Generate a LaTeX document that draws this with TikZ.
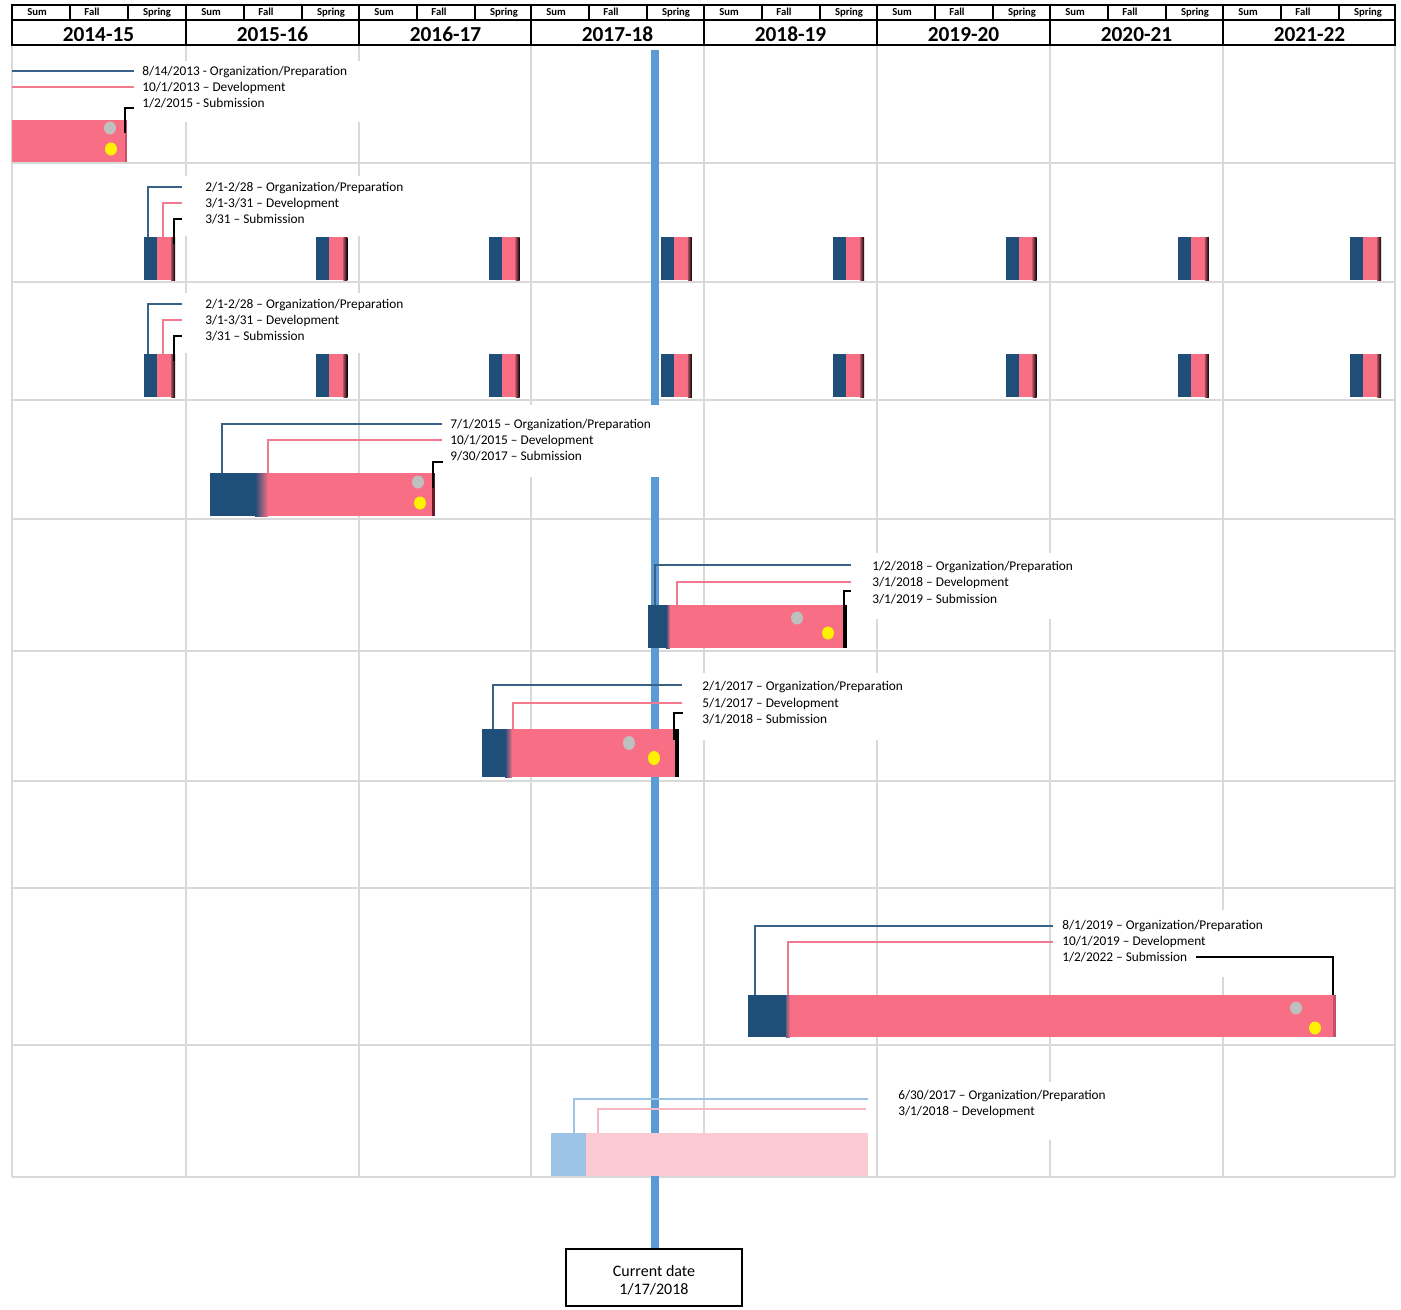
\documentclass[tikz,border=0pt]{standalone}
\usepackage{fontspec}
\setmainfont{Carlito}
\definecolor{dblue}{HTML}{1F4E79}
\definecolor{pinkc}{HTML}{F76E85}
\definecolor{gridc}{HTML}{D9D9D9}
\definecolor{curc}{HTML}{5B9BD5}
\definecolor{lblue}{HTML}{9DC3E6}
\definecolor{lpink}{HTML}{FBCAD3}
\definecolor{lpinkline}{HTML}{F7B8C3}
\definecolor{dotgray}{HTML}{BFBFBF}
\definecolor{cblue}{HTML}{3A6287}
\definecolor{cpink}{HTML}{F27A8E}
\definecolor{edgered}{HTML}{6B1A2A}
\definecolor{edgepink}{HTML}{C4506A}
\begin{document}
\begin{tikzpicture}[x=0.75pt,y=-0.75pt,
  gridline/.style={draw=gridc,line width=1.5pt},
  hdr/.style={draw=black,line width=1.5pt},
  hdrthin/.style={draw=black,line width=1.1pt},
  lbl/.style={anchor=west,inner sep=0pt,font=\fontsize{10}{12}\selectfont,text height=7pt,text depth=2pt,yshift=-0.8pt},
  sublbl/.style={inner sep=0pt,font=\bfseries\fontsize{8}{9}\selectfont,text height=5.5pt,text depth=1.5pt},
  yearlbl/.style={inner sep=0pt,font=\bfseries\fontsize{16}{18}\selectfont,text height=12pt,text depth=0pt},
  conb/.style={draw=cblue,line width=0.8pt},
  conp/.style={draw=cpink,line width=0.8pt},
  conk/.style={draw=black,line width=1pt},
  conlb/.style={draw=lblue,line width=0.8pt},
  conlp/.style={draw=lpinkline,line width=0.8pt},
  mask/.style={fill=white},
  curline/.style={draw=curc,line width=6pt},
  curbox/.style={draw=black,line width=0.8pt,fill=white,minimum width=132pt,minimum height=42.75pt,inner sep=0pt},
  curtxt/.style={align=center,font=\fontsize{12}{13.5}\selectfont,inner sep=0pt}
]
\useasboundingbox (0,0) rectangle (1401,1309);
\fill[white] (0,0) rectangle (1401,1309);

% ---------- grid ----------
\foreach \x in {12,186,359,531,704,877,1050,1223,1395}
  \draw[gridline] (\x,45) -- (\x,1177);
\foreach \y in {163,282,400,519,651,781,888,1045,1177}
  \draw[gridline] (12,\y) -- (1395,\y);

% ---------- current date ----------
\node[curbox] (cur) at (654,1277.5) {};
\node[curtxt] (curt) at (654,1280) {Current date\\1/17/2018};
\draw[curline] (655,50) -- (cur.north -| 655,0);

% ---------- white label areas ----------
\fill[mask] (136,61) rectangle (362,122);
\fill[mask] (183,176) rectangle (420,236);
\fill[mask] (183,293) rectangle (420,353);
\fill[mask] (440,405) rectangle (662,477);
\fill[mask] (851,553) rectangle (1085,619);
\fill[mask] (682,673) rectangle (910,740);
\fill[mask] (1053,910) rectangle (1275,977);
\fill[mask] (884,1082) rectangle (1115,1140);

% ---------- row 1 ----------
\fill[pinkc] (12,120) rectangle (126,162);
\fill[edgepink] (125,120) rectangle (126.5,162);
\fill[dotgray] (110,128) ellipse [x radius=6,y radius=6.5];
\fill[yellow] (111,149) ellipse [x radius=6,y radius=6.5];
\node[lbl] (t1a) at (142,71) {8/14/2013 - Organization/Preparation};
\node[lbl] (t1b) at (142,87) {10/1/2013 – Development};
\node[lbl] (t1c) at (142,103.5) {1/2/2015 - Submission};
\coordinate (s1a) at (134,71);  \coordinate (e1a) at (12,71);
\coordinate (s1b) at (134,87);  \coordinate (e1b) at (12,87);
\coordinate (s1c) at (134,108); \coordinate (e1c) at (125,133);
\draw[conb] (s1a) -- (e1a);
\draw[conp] (s1b) -- (e1b);
\draw[conk] (s1c) -| (e1c);

% ---------- rows 2 and 3 ----------
\foreach \r/\yo in {2/0,3/117} {
  \foreach \i in {0,...,7} {
    \pgfmathsetmacro\xo{144+172.3*\i}
    \fill[dblue] (\xo,237+\yo) rectangle ++(13.5,43);
    \fill[pinkc] (\xo+13,237+\yo) rectangle ++(14.5,43);
    \shade[left color=pinkc!70!black,right color=black] (\xo+27,237+\yo) rectangle ++(4,43);
  }
  \node[lbl] (ta\r) at (205,187+\yo) {2/1-2/28 – Organization/Preparation};
  \node[lbl] (tb\r) at (205,203+\yo) {3/1-3/31 – Development};
  \node[lbl] (tc\r) at (205,219.5+\yo) {3/31 – Submission};
  \coordinate (sa\r) at (182,187+\yo); \coordinate (ea\r) at (148,237+\yo);
  \coordinate (sb\r) at (182,203+\yo); \coordinate (eb\r) at (163,237+\yo);
  \coordinate (sc\r) at (182,219+\yo); \coordinate (ec\r) at (174,244+\yo);
  \draw[conb] (sa\r) -| (ea\r);
  \draw[conp] (sb\r) -| (eb\r);
  \draw[conk] (sc\r) -| (ec\r);
}

% ---------- row 4 ----------
\fill[dblue] (210,473) rectangle (256,516);
\shade[left color=dblue,right color=pinkc] (255,473) rectangle (268,516);
\fill[pinkc] (267.5,473) rectangle (432,516);
\fill[edgered] (432,473) rectangle (435,516);
\fill[dotgray] (418,482) ellipse [x radius=6,y radius=6.5];
\fill[yellow] (420,503) ellipse [x radius=6,y radius=6.5];
\node[lbl] (t4a) at (450,424) {7/1/2015 – Organization/Preparation};
\node[lbl] (t4b) at (450,440) {10/1/2015 – Development};
\node[lbl] (t4c) at (450,456) {9/30/2017 – Submission};
\coordinate (s4a) at (442,424); \coordinate (e4a) at (222,473);
\coordinate (s4b) at (442,440); \coordinate (e4b) at (268,473);
\coordinate (s4c) at (443,462); \coordinate (e4c) at (433,488);
\draw[conb] (s4a) -| (e4a);
\draw[conp] (s4b) -| (e4b);
\draw[conk] (s4c) -| (e4c);

% ---------- row 5 ----------
\fill[dblue] (648,605) rectangle (667,648);
\shade[left color=dblue,right color=pinkc] (666,605) rectangle (670,648);
\fill[pinkc] (669.5,605) rectangle (843,648);
\fill[black] (843,605) rectangle (847,648);
\fill[dotgray] (797,618) ellipse [x radius=6,y radius=6.5];
\fill[yellow] (828,633) ellipse [x radius=6,y radius=6.5];
\node[lbl] (t5a) at (872,566) {1/2/2018 – Organization/Preparation};
\node[lbl] (t5b) at (872,582) {3/1/2018 – Development};
\node[lbl] (t5c) at (872,599) {3/1/2019 – Submission};
\coordinate (s5a) at (851,565); \coordinate (e5a) at (655,605);
\coordinate (s5b) at (851,582); \coordinate (e5b) at (677,605);
\coordinate (s5c) at (851,591); \coordinate (e5c) at (844,605);
\draw[conb] (s5a) -| (e5a);
\draw[conp] (s5b) -| (e5b);
\draw[conk] (s5c) -| (e5c);

% ---------- row 6 ----------
\fill[dblue] (482,729) rectangle (506,777);
\shade[left color=dblue,right color=pinkc] (505,729) rectangle (512,777);
\fill[pinkc] (511.5,729) rectangle (675,777);
\fill[black] (675,729) rectangle (679,777);
\fill[dotgray] (629,743) ellipse [x radius=6,y radius=7];
\fill[yellow] (654,758) ellipse [x radius=6,y radius=7];
\node[lbl] (t6a) at (702,686) {2/1/2017 – Organization/Preparation};
\node[lbl] (t6b) at (702,703) {5/1/2017 – Development};
\node[lbl] (t6c) at (702,719) {3/1/2018 – Submission};
\coordinate (s6a) at (682,685); \coordinate (e6a) at (493,729);
\coordinate (s6b) at (682,703); \coordinate (e6b) at (513,729);
\coordinate (s6c) at (683,713); \coordinate (e6c) at (674,740);
\draw[conb] (s6a) -| (e6a);
\draw[conp] (s6b) -| (e6b);
\draw[conk] (s6c) -| (e6c);

% ---------- row 8 ----------
\fill[dblue] (748,995) rectangle (787,1037);
\shade[left color=dblue!60!pinkc,right color=pinkc] (786,995) rectangle (790,1037);
\fill[pinkc] (789.5,995) rectangle (1333,1037);
\fill[edgepink] (1333,995) rectangle (1336,1037);
\fill[dotgray] (1296,1008) ellipse [x radius=6,y radius=6.5];
\fill[yellow] (1315,1028) ellipse [x radius=6,y radius=6.5];
\node[lbl] (t8a) at (1062,925) {8/1/2019 – Organization/Preparation};
\node[lbl] (t8b) at (1062,941) {10/1/2019 – Development};
\node[lbl] (t8c) at (1062,957) {1/2/2022 – Submission};
\coordinate (s8a) at (1053,926); \coordinate (e8a) at (755,995);
\coordinate (s8b) at (1053,942); \coordinate (e8b) at (788,995);
\coordinate (s8c) at (1196,957); \coordinate (e8c) at (1333,995);
\draw[conb] (s8a) -| (e8a);
\draw[conp] (s8b) -| (e8b);
\draw[conk] (s8c) -| (e8c);

% ---------- row 9 ----------
\fill[lblue] (551,1133) rectangle (587,1176);
\fill[lpink] (586,1133) rectangle (868,1176);
\node[lbl] (t9a) at (898,1095) {6/30/2017 – Organization/Preparation};
\node[lbl] (t9b) at (898,1111) {3/1/2018 – Development};
\coordinate (s9a) at (868,1099); \coordinate (e9a) at (574,1133);
\coordinate (s9b) at (866,1109); \coordinate (e9b) at (598,1133);
\draw[conlb] (s9a) -| (e9a);
\draw[conlp] (s9b) -| (e9b);

% ---------- header ----------
\fill[white] (12,5) rectangle (1395,45);
\foreach \x/\lab in {12/2014-15,186/2015-16,359/2016-17,531/2017-18,704/2018-19,877/2019-20,1050/2020-21,1223/2021-22} {
  \node[yearlbl] (yr\x) at (\x+86.5,33.5) {\lab};
  \node[sublbl] (su\x) at (\x+25,13) {Sum};
  \node[sublbl] (fa\x) at (\x+80,13) {Fall};
  \node[sublbl] (sp\x) at (\x+145,13) {Spring};
  \draw[hdrthin] (\x+58,5) -- (\x+58,20);
  \draw[hdrthin] (\x+116,5) -- (\x+116,20);
  \draw[hdr] (\x,5) -- (\x,45);
}
\draw[hdrthin] (12,20) -- (1395,20);
\draw[hdr] (12,5) rectangle (1395,45);
\end{tikzpicture}
\end{document}
